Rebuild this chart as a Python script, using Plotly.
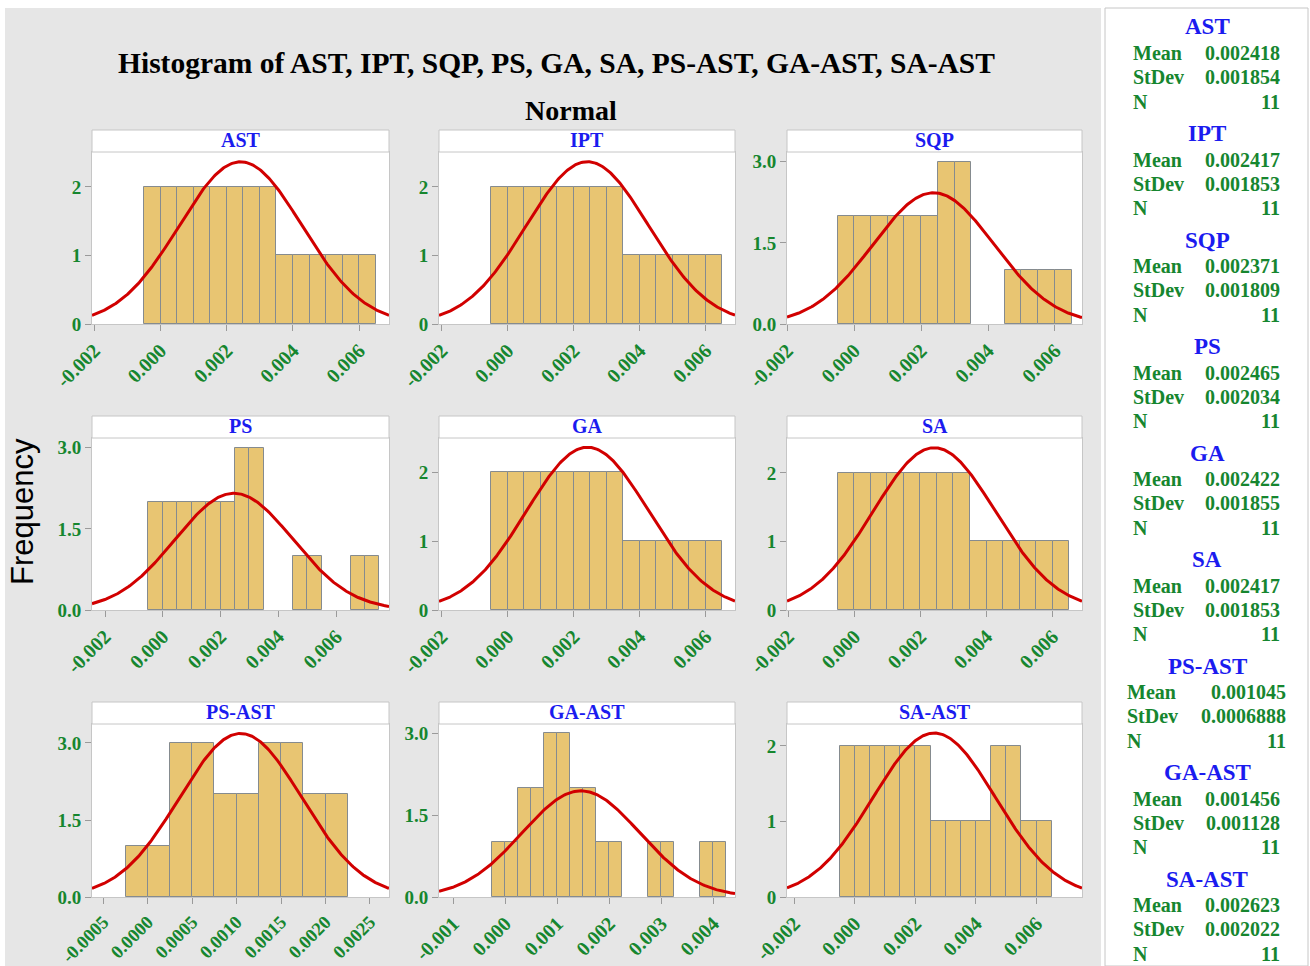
import numpy as np
import plotly.graph_objects as go

W, H = 1310, 966

# ---------------- data ----------------
names = ["AST", "IPT", "SQP", "PS", "GA", "SA", "PS-AST", "GA-AST", "SA-AST"]
means = [0.002418, 0.002417, 0.002371, 0.002465, 0.002422, 0.002417, 0.001045, 0.001456, 0.002623]
stdevs = [0.001854, 0.001853, 0.001809, 0.002034, 0.001855, 0.001853, 0.0006888, 0.001128, 0.002022]
n_obs = [11, 11, 11, 11, 11, 11, 11, 11, 11]
bin_widths = [0.001, 0.001, 0.001, 0.001, 0.001, 0.001, 0.0005, 0.0005, 0.001]

centers_ast = [0.000, 0.001, 0.002, 0.003, 0.004, 0.005, 0.006]
counts_ast = [2, 2, 2, 2, 1, 1, 1]
centers_ipt = [0.000, 0.001, 0.002, 0.003, 0.004, 0.005, 0.006]
counts_ipt = [2, 2, 2, 2, 1, 1, 1]
centers_sqp = [0.000, 0.001, 0.002, 0.003, 0.004, 0.005, 0.006]
counts_sqp = [2, 2, 2, 3, 0, 1, 1]
centers_ps = [0.000, 0.001, 0.002, 0.003, 0.004, 0.005, 0.006, 0.007]
counts_ps = [2, 2, 2, 3, 0, 1, 0, 1]
centers_ga = [0.000, 0.001, 0.002, 0.003, 0.004, 0.005, 0.006]
counts_ga = [2, 2, 2, 2, 1, 1, 1]
centers_sa = [0.000, 0.001, 0.002, 0.003, 0.004, 0.005, 0.006]
counts_sa = [2, 2, 2, 2, 1, 1, 1]
centers_ps_ast = [0.0000, 0.0005, 0.0010, 0.0015, 0.0020]
counts_ps_ast = [1, 3, 2, 3, 2]
centers_ga_ast = [0.0000, 0.0005, 0.0010, 0.0015, 0.0020, 0.0025, 0.0030, 0.0035, 0.0040]
counts_ga_ast = [1, 2, 3, 2, 1, 0, 1, 0, 1]
centers_sa_ast = [0.000, 0.001, 0.002, 0.003, 0.004, 0.005, 0.006]
counts_sa_ast = [2, 2, 2, 1, 1, 2, 1]

all_centers = [centers_ast, centers_ipt, centers_sqp, centers_ps, centers_ga,
               centers_sa, centers_ps_ast, centers_ga_ast, centers_sa_ast]
all_counts = [counts_ast, counts_ipt, counts_sqp, counts_ps, counts_ga,
              counts_sa, counts_ps_ast, counts_ga_ast, counts_sa_ast]

xticks_std = [-0.002, 0.000, 0.002, 0.004, 0.006]
xticks_ps_ast = [-0.0005, 0.0000, 0.0005, 0.0010, 0.0015, 0.0020, 0.0025]
xticks_ga_ast = [-0.001, 0.000, 0.001, 0.002, 0.003, 0.004]
all_xticks = [xticks_std] * 6 + [xticks_ps_ast, xticks_ga_ast, xticks_std]
xtick_fmt = ["{:.3f}"] * 6 + ["{:.4f}", "{:.3f}", "{:.3f}"]
xtick_size = [20, 20, 20, 20, 20, 20, 18.5, 20, 20]

yticks_int = [0, 1, 2]
yticks_half = [0.0, 1.5, 3.0]
all_yticks = [yticks_int, yticks_int, yticks_half, yticks_half, yticks_int,
              yticks_int, yticks_half, yticks_half, yticks_int]
ytick_fmt = ["{:.0f}", "{:.0f}", "{:.1f}", "{:.1f}", "{:.0f}", "{:.0f}", "{:.1f}", "{:.1f}", "{:.0f}"]

# ---------------- layout geometry (pixels) ----------------
x_ranges = [[-0.00207, 0.00690], [-0.00208, 0.00689], [-0.00201, 0.00681],
            [-0.00245, 0.00783], [-0.00208, 0.00689], [-0.00204, 0.00689],
            [-0.000627, 0.002714], [-0.001275, 0.00442], [-0.00224, 0.00750]]
y_tops = [2.51, 2.51, 3.18, 3.18, 2.50, 2.51, 3.37, 3.17, 2.29]

col_px = [(92, 389), (439, 735), (787, 1082)]
row_px = [(152, 324), (438, 610), (724, 897)]   # plot area top/bottom
header_h = 22

GREEN = "#16862f"
BLUE = "#1b1bef"
BAR = "#e8c572"
BORDER = "#c6c6c6"
SERIF = "Liberation Serif, Times New Roman, serif"


def px_x(p):
    return p / W


def px_y(p):
    return 1 - p / H


fig = go.Figure()
layout = dict(
    width=W, height=H, margin=dict(l=0, r=0, t=0, b=0, autoexpand=False),
    paper_bgcolor="white", plot_bgcolor="white",
    showlegend=False, barmode="overlay", bargap=0,
)
shapes = []
annotations = []

# page backgrounds
shapes.append(dict(type="rect", xref="paper", yref="paper",
                   x0=px_x(5), x1=px_x(1101), y0=0, y1=px_y(8),
                   fillcolor="#e6e6e6", line=dict(width=0), layer="below"))
shapes.append(dict(type="rect", xref="paper", yref="paper",
                   x0=px_x(1105), x1=px_x(1308), y0=0, y1=px_y(8),
                   fillcolor="white", line=dict(color=BORDER, width=1), layer="below"))

for i, name in enumerate(names):
    r, c = divmod(i, 3)
    xa = "x" if i == 0 else f"x{i+1}"
    ya = "y" if i == 0 else f"y{i+1}"
    bw = bin_widths[i]
    cen = all_centers[i]
    cnt = [v if v > 0 else None for v in all_counts[i]]

    for off in (-bw / 2, 0.0):
        fig.add_trace(go.Bar(
            x=cen, y=cnt, width=bw / 2, offset=off,
            marker=dict(color=BAR, line=dict(color="#858b8f", width=1)),
            xaxis=xa, yaxis=ya, hoverinfo="skip"))

    # fitted normal curve, scaled to frequency
    xr = x_ranges[i]
    xs = np.linspace(xr[0], xr[1], 300)
    ys = n_obs[i] * bw / (stdevs[i] * np.sqrt(2 * np.pi)) * np.exp(-0.5 * ((xs - means[i]) / stdevs[i]) ** 2)
    fig.add_trace(go.Scatter(x=xs, y=ys, mode="lines",
                             line=dict(color="#d10000", width=3),
                             xaxis=xa, yaxis=ya, hoverinfo="skip"))

    x0p, x1p = col_px[c]
    y0p, y1p = row_px[r]
    layout["xaxis" if i == 0 else f"xaxis{i+1}"] = dict(
        domain=[px_x(x0p), px_x(x1p)], range=xr, anchor=ya, automargin=False,
        showgrid=False, zeroline=False, showline=True, mirror=True,
        linecolor=BORDER, linewidth=1,
        ticks="outside", ticklen=6, tickcolor="#9a9a9a",
        tickvals=all_xticks[i],
        ticktext=[xtick_fmt[i].format(v) for v in all_xticks[i]],
        tickangle=-45,
        tickfont=dict(family=SERIF, size=xtick_size[i], color=GREEN, weight="bold"),
    )
    layout["yaxis" if i == 0 else f"yaxis{i+1}"] = dict(
        domain=[px_y(y1p), px_y(y0p)], range=[0, y_tops[i]], anchor=xa, automargin=False,
        showgrid=False, zeroline=False, showline=True, mirror=True,
        linecolor=BORDER, linewidth=1,
        ticks="outside", ticklen=6, tickcolor="#9a9a9a",
        tickvals=all_yticks[i],
        ticktext=[ytick_fmt[i].format(v) for v in all_yticks[i]],
        tickfont=dict(family=SERIF, size=19, color=GREEN, weight="bold"),
    )
    # white plot area (drawn above the grey page rectangle)
    shapes.append(dict(type="rect", xref="paper", yref="paper",
                       x0=px_x(x0p), x1=px_x(x1p), y0=px_y(y1p), y1=px_y(y0p),
                       fillcolor="white", line=dict(width=0), layer="below"))
    # header strip
    shapes.append(dict(type="rect", xref="paper", yref="paper",
                       x0=px_x(x0p), x1=px_x(x1p), y0=px_y(y0p), y1=px_y(y0p - header_h),
                       fillcolor="white", line=dict(color=BORDER, width=1)))
    annotations.append(dict(xref="paper", yref="paper",
                            x=px_x((x0p + x1p) / 2), y=px_y(y0p - header_h / 2 - 1),
                            text=f"<b>{name}</b>", showarrow=False,
                            xanchor="center", yanchor="middle",
                            font=dict(family=SERIF, size=20, color=BLUE)))

    # statistics panel
    gy = 27 + i * 106.5
    extra = 6 if len(f"{stdevs[i]:.4g}") > 8 else 0
    annotations.append(dict(xref="paper", yref="paper", x=px_x(1207), y=px_y(gy),
                            text=f"<b>{name}</b>", showarrow=False,
                            xanchor="center", yanchor="middle",
                            font=dict(family=SERIF, size=23, color=BLUE)))
    rows = [("Mean", f"{means[i]:.4g}"), ("StDev", f"{stdevs[i]:.4g}"), ("N", f"{n_obs[i]}")]
    for k, (lab, val) in enumerate(rows):
        yy = gy + 26 + k * 24.3
        annotations.append(dict(xref="paper", yref="paper", x=px_x(1131 - extra), y=px_y(yy),
                                text=f"<b>{lab}</b>", showarrow=False,
                                xanchor="left", yanchor="middle",
                                font=dict(family=SERIF, size=20, color=GREEN)))
        annotations.append(dict(xref="paper", yref="paper", x=px_x(1282 + extra), y=px_y(yy),
                                text=f"<b>{val}</b>", showarrow=False,
                                xanchor="right", yanchor="middle",
                                font=dict(family=SERIF, size=20, color=GREEN)))

annotations.append(dict(xref="paper", yref="paper", x=px_x(556), y=px_y(63),
                        text="<b>Histogram of AST, IPT, SQP, PS, GA, SA, PS-AST, GA-AST, SA-AST</b>",
                        showarrow=False, xanchor="center", yanchor="middle",
                        font=dict(family=SERIF, size=29.5, color="black")))
annotations.append(dict(xref="paper", yref="paper", x=px_x(571), y=px_y(110),
                        text="<b>Normal</b>", showarrow=False, xanchor="center", yanchor="middle",
                        font=dict(family=SERIF, size=28, color="black")))
annotations.append(dict(xref="paper", yref="paper", x=px_x(22), y=px_y(512),
                        text="Frequency", showarrow=False, textangle=-90,
                        xanchor="center", yanchor="middle",
                        font=dict(family="Liberation Sans, Arial, sans-serif", size=31, color="black")))

layout["shapes"] = shapes
layout["annotations"] = annotations
fig.update_layout(**layout)
fig.write_html("out.html")
